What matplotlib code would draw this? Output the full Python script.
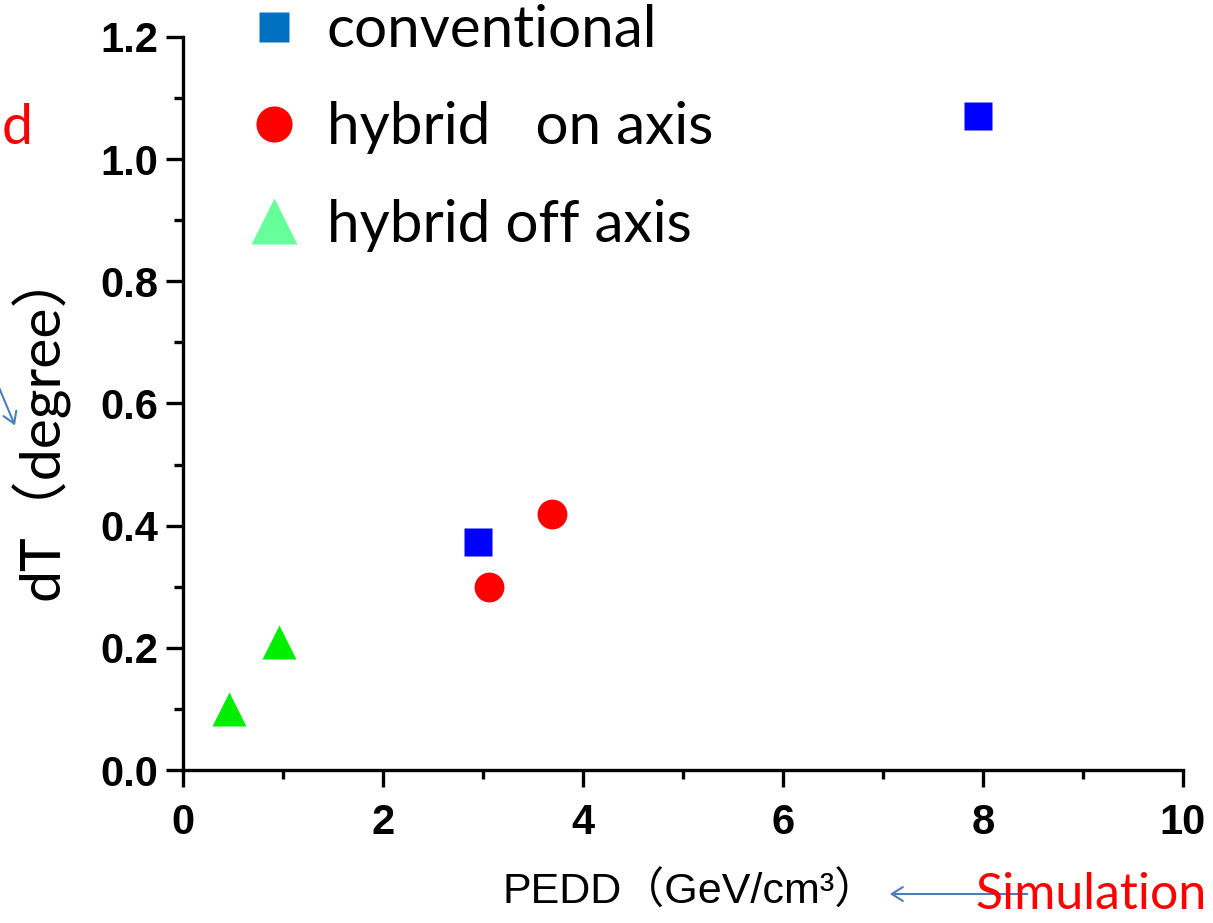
import matplotlib
matplotlib.use("Agg")
import matplotlib.pyplot as plt
from matplotlib.lines import Line2D
from matplotlib.patches import FancyArrowPatch
from matplotlib.ticker import MultipleLocator

# data
conv_x = [2.95, 7.95]
conv_y = [0.373, 1.070]
on_x = [3.06, 3.69]
on_y = [0.300, 0.419]
off_x = [0.46, 0.96]
off_y = [0.100, 0.209]

legend_labels = ["conventional", "hybrid   on axis", "hybrid off axis"]

W, H = 1213, 923
fig = plt.figure(figsize=(W / 100, H / 100), dpi=100)
ax = fig.add_axes([183 / W, 1 - 770 / H, 1000 / W, 733 / H])

ax.plot(conv_x, conv_y, "s", color="#0000ff", ms=19.5, mec="none", clip_on=False)
ax.plot(on_x, on_y, "o", color="#ff0000", ms=21.5, mec="none", clip_on=False)
ax.plot(off_x, off_y, "^", color="#00ee00", ms=25, mec="none", clip_on=False)

ax.set_xlim(0, 10)
ax.set_ylim(0, 1.2)
ax.xaxis.set_major_locator(MultipleLocator(2))
ax.xaxis.set_minor_locator(MultipleLocator(1))
ax.yaxis.set_major_locator(MultipleLocator(0.2))
ax.yaxis.set_minor_locator(MultipleLocator(0.1))
ax.yaxis.set_major_formatter(plt.FuncFormatter(lambda v, p: f"{v:.1f}"))

for s in ["top", "right"]:
    ax.spines[s].set_visible(False)
for s in ["left", "bottom"]:
    ax.spines[s].set_linewidth(2.4)

ax.tick_params(which="major", length=12, width=2.4, direction="out")
ax.tick_params(which="minor", length=6.5, width=2.4, direction="out")
ax.tick_params(axis="y", which="major", pad=6)
ax.tick_params(axis="x", which="major", pad=12)
for lab in ax.get_xticklabels() + ax.get_yticklabels():
    lab.set_fontfamily("Liberation Sans")
    lab.set_fontweight("bold")
    lab.set_fontsize(30)

ax.set_ylabel("dT\uff08degree\uff09", fontsize=41,
              family=["Lato", "Noto Sans CJK JP"])
ax.yaxis.set_label_coords(-0.113, 0.473)

# x label is placed below the axes as in the slide
fig.text(690 / W, 1 - 892 / H, "PEDD\uff08GeV/cm\u00b3\uff09", fontsize=31,
         family=["Liberation Sans", "Noto Sans CJK JP"], ha="center", va="center")

# legend with slide colours
handles = [
    Line2D([], [], marker="s", ls="none", color="#0070c0", ms=22, mec="none"),
    Line2D([], [], marker="o", ls="none", color="#ff0000", ms=26, mec="none"),
    Line2D([], [], marker="^", ls="none", color="#66ff99", ms=33, mec="none"),
]
fig.legend(handles, legend_labels, loc="upper left",
           bbox_to_anchor=(248 / W, 1 - 4 / H), frameon=False, borderpad=0,
           borderaxespad=0, handlelength=0.9, handletextpad=0.45,
           labelspacing=0.76, prop={"family": "Lato", "size": 42})

# pieces of slide text around the chart
fig.text(33 / W, 1 - 128 / H, "d", color="red", fontsize=40, family="Lato",
         ha="right", va="center")
fig.text(975 / W, 1 - 895 / H, "Simulation", color="red", fontsize=36,
         family="Lato", ha="left", va="center")
fig.patches.append(FancyArrowPatch(
    (1030 / W, 1 - 894 / H), (887 / W, 1 - 894 / H), transform=fig.transFigure,
    arrowstyle="->,head_length=8,head_width=5", color="#4a7ebb", lw=1.5))
fig.patches.append(FancyArrowPatch(
    (-5 / W, 1 - 378 / H), (16 / W, 1 - 428 / H), transform=fig.transFigure,
    arrowstyle="->,head_length=8,head_width=5", color="#4a7ebb", lw=1.5))

fig.savefig("out.png", dpi=100)
